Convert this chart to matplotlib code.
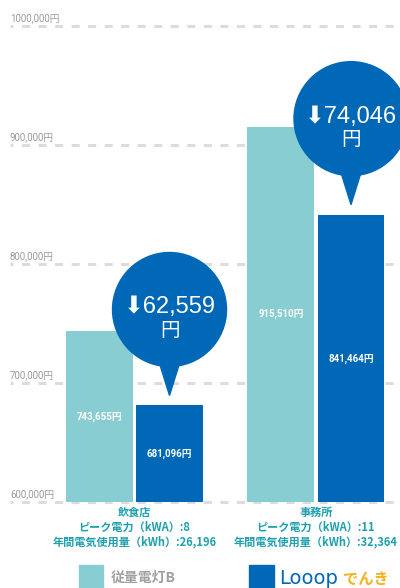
import matplotlib
matplotlib.use("Agg")
import matplotlib.pyplot as plt
from matplotlib.patches import Circle, Polygon, Rectangle
from matplotlib.transforms import ScaledTranslation

plt.rcParams['lines.scale_dashes'] = False

# data
categories = ["飲食店", "事務所"]
peak_kw = [8, 11]
annual_kwh = ["26,196", "32,364"]
juryo = [743655, 915510]      # 従量電灯B
looop = [681096, 841464]      # Looopでんき
yticks = [600000, 700000, 800000, 900000, 1000000]
ytick_labels = ["600,000円", "700,000円", "800,000円", "900,000円", "1000,000円"]

teal = "#88cdd2"
blue = "#0068b6"
cat_color = "#1ea0ae"

fig = plt.figure(figsize=(4, 5.88), dpi=100)
ax = fig.add_axes([0, 86 / 588, 1, 476 / 588])
ax.set_xlim(-0.741, 1.463)
ax.set_ylim(600000, 1000000)
ax.axis('off')

# dashed grid lines + labels
for t, lab in zip(yticks, ytick_labels):
    ax.axhline(t, xmin=10 / 400, xmax=1, color="#dcdcdc", lw=2.2,
               ls=(3.6, (5.8, 6.1)), zorder=0, clip_on=False)
    ax.annotate(lab, xy=(10 / 400, t), xycoords=('axes fraction', 'data'),
                xytext=(0, 5), textcoords='offset pixels', va='baseline', ha='left',
                fontsize=7, color="#9a9a9a", family=['Roboto', 'Noto Sans CJK JP'],
                annotation_clip=False)

x = list(range(len(categories)))
w = 0.369
off = 0.193
xa = [i - off for i in x]
xb = [i + off for i in x]
ax.bar(xa, [v - 600000 for v in juryo], w, bottom=600000, color=teal, zorder=2)
ax.bar(xb, [v - 600000 for v in looop], w, bottom=600000, color=blue, zorder=2)

# value labels in bars
for xs, vals in ((xa, juryo), (xb, looop)):
    for xi, v in zip(xs, vals):
        ax.text(xi, (600000 + v) / 2, f"{v:,}円", ha='center', va='center',
                color='white', fontsize=7, fontweight='bold',
                family=['Roboto', 'Noto Sans CJK JP'], zorder=3)

# speech bubbles with savings
for xi, a, b in zip(xb, juryo, looop):
    tr = fig.dpi_scale_trans + ScaledTranslation(xi, b, ax.transData)
    ax.add_patch(Circle((0, 0.96), 0.57, transform=tr, color=blue,
                        zorder=4, clip_on=False))
    ax.add_patch(Polygon([(0, 0.10), (-0.14, 0.55), (0.14, 0.55)], closed=True,
                         transform=tr, color=blue, zorder=4, clip_on=False))
    ax.text(0, 0.98, f"⬇{a - b:,}", transform=tr, ha='center', va='center',
            color='white', fontsize=17, family=['Liberation Sans', 'DejaVu Sans'],
            zorder=5, clip_on=False)
    ax.text(0, 0.75, "円", transform=tr, ha='center', va='center',
            color='white', fontsize=14, family=['Noto Sans CJK JP'],
            zorder=5, clip_on=False)

# category labels
for xi, c, p, k in zip(x, categories, peak_kw, annual_kwh):
    ax.annotate(f"{c}\nピーク電力（kWA）:{p}\n年間電気使用量（kWh）:{k}",
                xy=(xi, 600000), xytext=(0, -25), textcoords='offset pixels',
                ha='center', va='center', multialignment='center',
                linespacing=1.2, fontsize=8, color=cat_color, fontweight='bold',
                family=['Noto Sans CJK JP'], annotation_clip=False)

# legend
fig.add_artist(Rectangle((79 / 400, 0), 24 / 400, 23 / 588,
                         transform=fig.transFigure, color=teal))
fig.text(111 / 400, 10 / 588, "従量電灯B", va='center', ha='left', fontsize=10,
         fontweight='bold', color="#a0a0a0", family=['Noto Sans CJK JP'])
fig.add_artist(Rectangle((249 / 400, 0), 25 / 400, 23 / 588,
                         transform=fig.transFigure, color=blue))
fig.text(279 / 400, 9 / 588, "Looop", va='center', ha='left', fontsize=14,
         color=blue, family=['DejaVu Sans'])
fig.text(343 / 400, 9 / 588, "でんき", va='center', ha='left', fontsize=11,
         fontweight='bold', color="#f5b21e", family=['Noto Sans CJK JP'])

fig.savefig("out.png", dpi=100)
